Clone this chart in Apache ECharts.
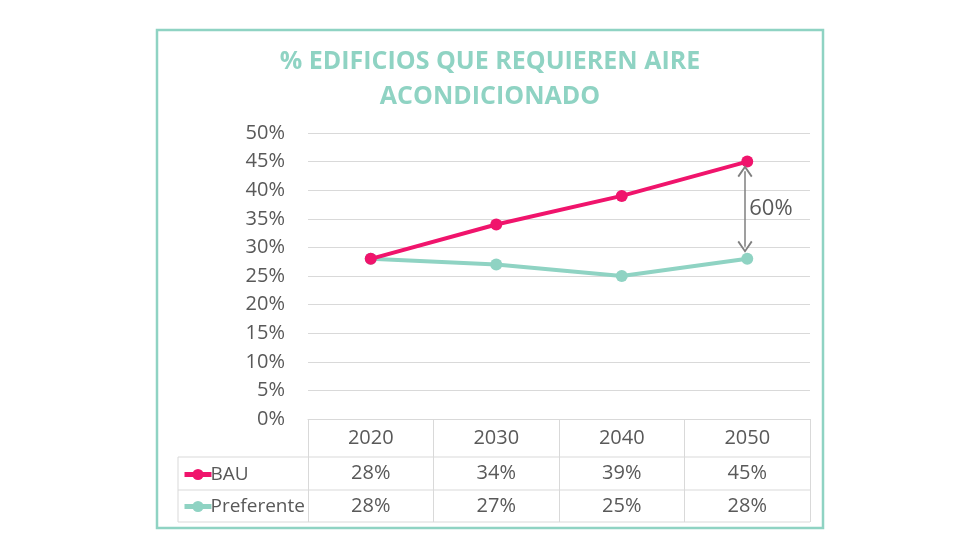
<!DOCTYPE html>
<html><head><meta charset="utf-8">
<script src="https://cdn.jsdelivr.net/npm/echarts@6/dist/echarts.min.js"></script>
<style>html,body{margin:0;padding:0;background:#fff}#c{width:980px;height:560px}</style>
</head><body><div id="c"></div>
<script>
const titleText = '% EDIFICIOS QUE REQUIEREN AIRE\nACONDICIONADO';
const years = ['2020', '2030', '2040', '2050'];
const bau = [28, 34, 39, 45];
const preferente = [28, 27, 25, 28];
const seriesNames = ['BAU', 'Preferente'];
const gapLabel = '60%';
const gapFrom = 43.3;
const gapTo = 30.1;

const PINK = '#f0146c';
const TEAL = '#8fd3c3';
const GRAY = '#595959';
const FONT = '"Open Sans", "Noto Sans", sans-serif';
const FS = 20;
const chart = echarts.init(document.getElementById('c'));

const baseX = {
  type: 'category', data: years, gridIndex: 0, position: 'bottom',
  boundaryGap: true, axisLine: { show: false }, axisTick: { show: false },
  splitLine: { show: false }
};
chart.setOption({
  animation: false,
  textStyle: { fontFamily: FONT },
  title: {
    text: titleText, left: 'center', top: 39,
    textStyle: { color: TEAL, fontSize: 25, fontWeight: 'bold', lineHeight: 35, fontFamily: FONT }
  },
  legend: {
    orient: 'vertical', left: 177, top: 460, itemWidth: 27, itemHeight: 14, itemGap: 13,
    data: seriesNames, selectedMode: false,
    lineStyle: { width: 5 },
    itemStyle: { borderWidth: 0 },
    textStyle: { color: GRAY, fontSize: 19, padding: [0, 0, 0, -6] }
  },
  grid: { left: 308, right: 170, top: 133, bottom: 141 },
  xAxis: [
    Object.assign({}, baseX, {
      axisLine: { show: true, lineStyle: { color: '#d9d9d9', width: 1 } },
      axisTick: { show: true, length: 103, interval: 0, lineStyle: { color: '#d9d9d9' } },
      axisLabel: { color: GRAY, fontSize: FS, margin: 9, interval: 0 }
    }),
    Object.assign({}, baseX, {
      offset: 36,
      axisLabel: { color: GRAY, fontSize: FS, margin: 8, interval: 0, formatter: (v, i) => bau[i] + '%' }
    }),
    Object.assign({}, baseX, {
      offset: 69,
      axisLabel: { color: GRAY, fontSize: FS, margin: 8, interval: 0, formatter: (v, i) => preferente[i] + '%' }
    })
  ],
  yAxis: {
    type: 'value', min: 0, max: 50, interval: 5,
    axisLine: { show: false }, axisTick: { show: false },
    axisLabel: { color: GRAY, fontSize: FS, margin: 23, formatter: '{value}%' },
    splitLine: { lineStyle: { color: '#d9d9d9', width: 1 } }
  },
  graphic: [
    { type: 'rect', shape: { x: 157, y: 30, width: 666, height: 498 }, style: { fill: 'none', stroke: TEAL, lineWidth: 2.5 }, z: -1 },
    { type: 'line', shape: { x1: 178, y1: 457, x2: 810, y2: 457 }, style: { stroke: '#d9d9d9', lineWidth: 1 } },
    { type: 'line', shape: { x1: 178, y1: 490, x2: 810, y2: 490 }, style: { stroke: '#d9d9d9', lineWidth: 1 } },
    { type: 'line', shape: { x1: 178, y1: 522, x2: 810, y2: 522 }, style: { stroke: '#d9d9d9', lineWidth: 1 } },
    { type: 'line', shape: { x1: 178, y1: 457, x2: 178, y2: 522 }, style: { stroke: '#d9d9d9', lineWidth: 1 } }
  ],
  series: [
    {
      name: seriesNames[0], type: 'line', data: bau, xAxisIndex: 0,
      symbol: 'circle', symbolSize: 12, color: PINK,
      lineStyle: { width: 4, color: PINK }, itemStyle: { color: PINK },
      z: 3,
      markLine: {
        silent: true,
        symbol: ['path://M5,0 L10,9 L9,10 L5,2.6 L1,10 L0,9 Z', 'path://M5,0 L10,9 L9,10 L5,2.6 L1,10 L0,9 Z'],
        symbolSize: [15, 12],
        lineStyle: { color: '#7f7f7f', width: 1.5, type: 'solid' },
        label: { show: false },
        data: [[{ coord: ['2050', gapFrom], x: 745 }, { coord: ['2050', gapTo], x: 745 }]]
      },
      markPoint: {
        silent: true, symbol: 'circle', symbolSize: 0,
        data: [{ coord: ['2050', (gapFrom + gapTo) / 2] }],
        label: { show: true, position: 'right', distance: 2, formatter: gapLabel, color: GRAY, fontSize: 22 }
      }
    },
    {
      name: seriesNames[1], type: 'line', data: preferente, xAxisIndex: 0,
      symbol: 'circle', symbolSize: 12, color: TEAL,
      lineStyle: { width: 4, color: TEAL }, itemStyle: { color: TEAL },
      z: 2
    }
  ]
});
</script></body></html>
